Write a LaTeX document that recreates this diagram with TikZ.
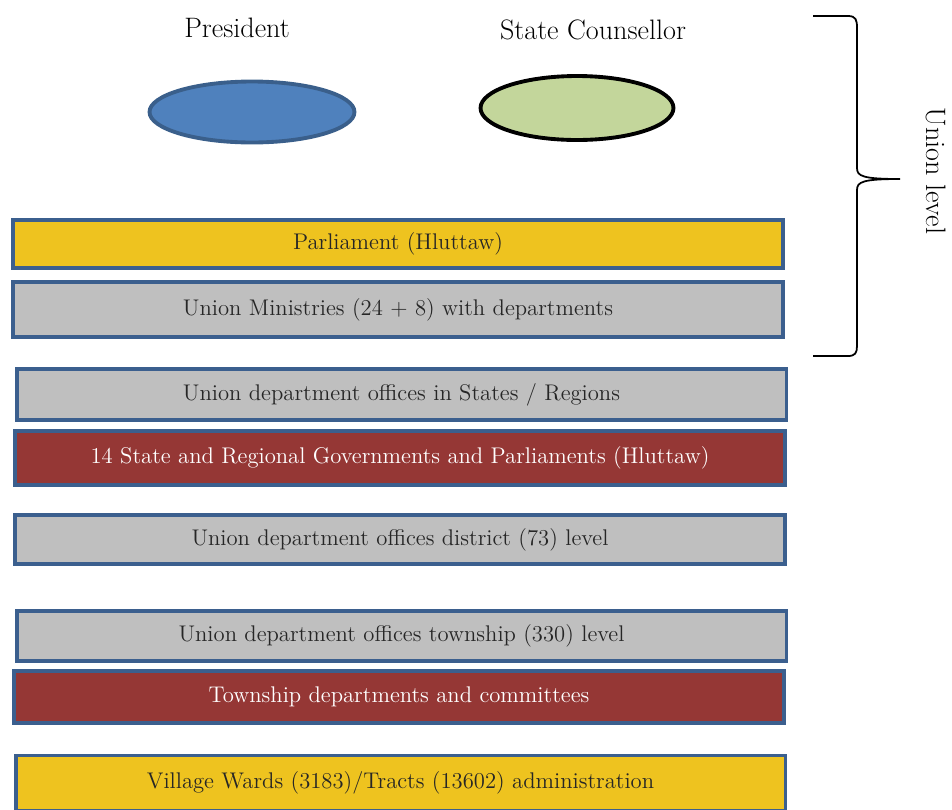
\documentclass[tikz,border=0pt]{standalone}
\usepackage{tikz}
\usetikzlibrary{shapes.geometric}

\definecolor{hyellow}{HTML}{EEC31F}
\definecolor{hgray}{HTML}{BFBFBF}
\definecolor{hred}{HTML}{953735}
\definecolor{hedge}{HTML}{3B5F8E}
\definecolor{hblue}{HTML}{4F81BD}
\definecolor{hblueedge}{HTML}{3A5F8B}
\definecolor{hgreen}{HTML}{C3D69B}

\tikzset{
  levelbox/.style={draw=hedge, line width=2.2pt, rectangle, minimum width=15.4cm,
    inner sep=0pt, font=\fontsize{12.9}{15}\selectfont},
  darktext/.style={text=black!85},
  lighttext/.style={text=white},
  office/.style={ellipse, line width=2.2pt, inner sep=0pt},
  headlabel/.style={font=\fontsize{16}{19}\selectfont}
}

\begin{document}
\begin{tikzpicture}[x=0.02cm, y=-0.02cm]
  \useasboundingbox (0,0) rectangle (952,809);
  \clip (0,0) rectangle (952,809);
  % Heads of the union
  \node[headlabel] (preslabel) at (237,28) {President};
  \node[headlabel] (counslabel) at (593,30) {State Counsellor};
  \node[office, draw=hblueedge, fill=hblue, minimum width=4.1cm, minimum height=1.22cm] (pres) at (252,112) {};
  \node[office, draw=black, fill=hgreen, minimum width=3.86cm, minimum height=1.28cm] (couns) at (577,108) {};
  % Levels
  \node[levelbox, fill=hyellow, darktext, minimum height=0.96cm] (parl) at (398,244) {Parliament (Hluttaw)};
  \node[levelbox, fill=hgray, darktext, minimum height=1.1cm] (ministries) at (398,309.5) {Union Ministries (24 + 8) with departments};
  \node[levelbox, fill=hgray, darktext, minimum height=1.02cm] (stateoffices) at (401.5,394.5) {Union department offices in States / Regions};
  \node[levelbox, fill=hred, lighttext, minimum height=1.08cm] (stategovs) at (400,458) {14 State and Regional Governments and Parliaments (Hluttaw)};
  \node[levelbox, fill=hgray, darktext, minimum height=0.98cm] (district) at (400,539.5) {Union department offices district (73) level};
  \node[levelbox, fill=hgray, darktext, minimum height=1cm] (township) at (401.5,636) {Union department offices township (330) level};
  \node[levelbox, fill=hred, lighttext, minimum height=1.04cm] (twpdepts) at (399,697) {Township departments and committees};
  \node[levelbox, fill=hyellow, darktext, minimum height=1.1cm] (village) at (400.5,783) {Village Wards (3183)/Tracts (13602) administration};
  % Union level brace
  \draw[line width=1pt] (813,16) -- (848,16) .. controls (856,16) and (857,20) .. (857,28)
    -- (857,168) .. controls (857,176) and (862,179) .. (900,179)
    .. controls (862,179) and (857,182) .. (857,190)
    -- (857,346) .. controls (857,353) and (855,356) .. (848,356) -- (813,356);
  \node[rotate=-90, headlabel, inner sep=1pt] (unionlevel) at (936,171) {Union level};
\end{tikzpicture}
\end{document}
